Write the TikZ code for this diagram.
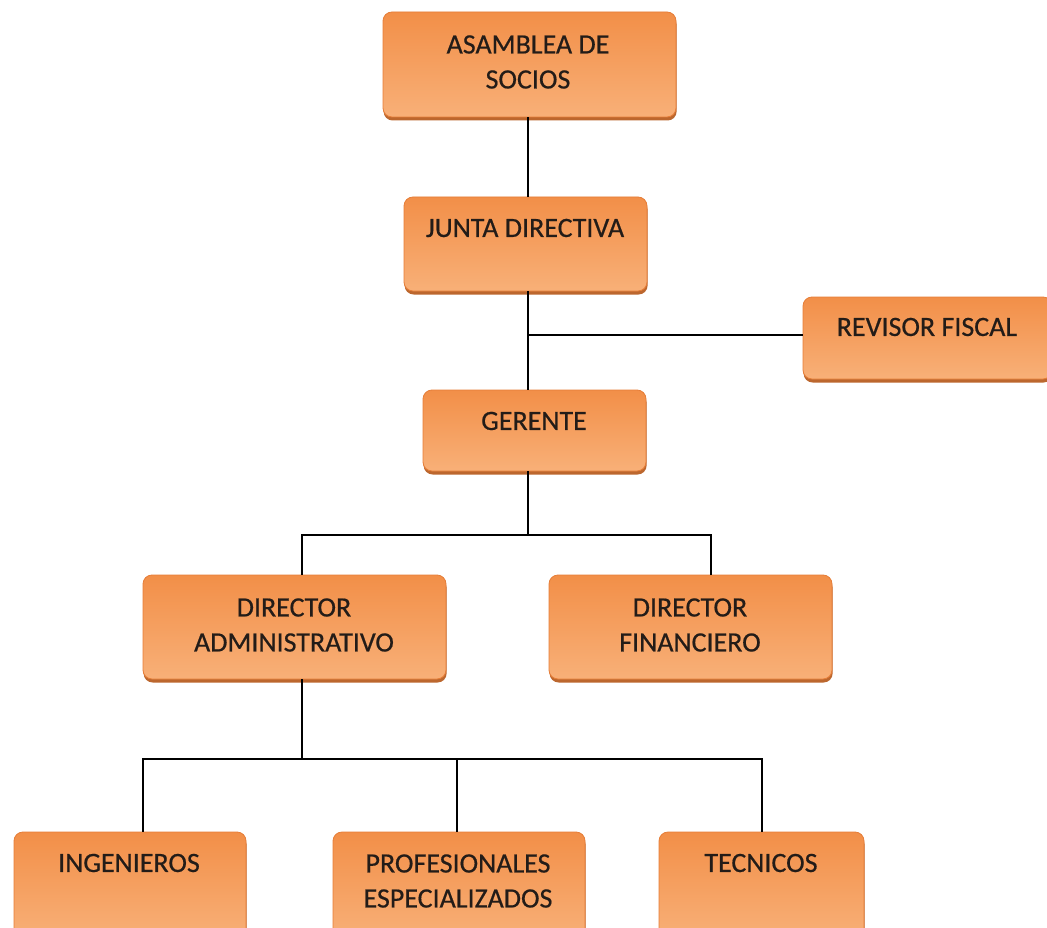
\documentclass[tikz,border=0pt]{standalone}
\usepackage{fontspec}
\setmainfont{Carlito}
\newfontfamily\boxfont[FakeBold=0.5]{Carlito}
\usetikzlibrary{shadows}
\definecolor{otop}{RGB}{242,143,72}
\definecolor{omid}{RGB}{246,162,100}
\definecolor{obot}{RGB}{248,176,120}
\definecolor{oedge}{RGB}{230,125,55}
\definecolor{oshadow}{RGB}{185,95,35}
\definecolor{txtc}{RGB}{35,28,24}
\tikzset{
  box/.style={rounded corners=9pt, draw=oedge, line width=0.8pt,
    top color=otop, middle color=omid, bottom color=obot,
    drop shadow={shadow xshift=0.6pt, shadow yshift=-3.5pt, fill=oshadow, opacity=0.95},
    inner sep=0pt},
  txt/.style={text=txtc, align=center, font=\boxfont\fontsize{28}{35}\selectfont},
  conn/.style={draw=black, line width=1.6pt}
}
\begin{document}
\begin{tikzpicture}[x=1pt,y=-1pt]
\fill[white] (0,0) rectangle (1047,928);
\useasboundingbox (0,0) rectangle (1047,928);
% boxes
\node[box, minimum width=293pt, minimum height=105pt] (A) at (529.5,64.5) {};
\node[box, minimum width=243pt, minimum height=94pt] (J) at (525.5,244) {};
\node[box, minimum width=249pt, minimum height=82pt] (R) at (927.5,338) {};
\node[box, minimum width=223pt, minimum height=81pt] (G) at (534.5,430.5) {};
\node[box, minimum width=303pt, minimum height=104pt] (DA) at (294.5,627) {};
\node[box, minimum width=283pt, minimum height=104pt] (DF) at (690.5,627) {};
\node[box, minimum width=232pt, minimum height=106pt] (I) at (130,885) {};
\node[box, minimum width=252pt, minimum height=106pt] (P) at (459,885) {};
\node[box, minimum width=205pt, minimum height=106pt] (T) at (761.5,885) {};
% texts
\node[txt] (tA) at (528,62) {ASAMBLEA DE\\SOCIOS};
\node[txt] (tJ) at (525,228) {JUNTA DIRECTIVA};
\node[txt] (tR) at (927,327) {REVISOR FISCAL};
\node[txt] (tG) at (534,421) {GERENTE};
\node[txt] (tDA) at (294,625) {DIRECTOR\\ADMINISTRATIVO};
\node[txt] (tDF) at (690,625) {DIRECTOR\\FINANCIERO};
\node[txt] (tI) at (129,863) {INGENIEROS};
\node[txt] (tP) at (458,881) {PROFESIONALES\\ESPECIALIZADOS};
\node[txt] (tT) at (761,863) {TECNICOS};
% connector coordinates
\coordinate (s1) at (528,335);
\coordinate (ca) at (302,535);
\coordinate (cm) at (528,535);
\coordinate (cf) at (711,535);
\coordinate (b0) at (302,759);
\coordinate (bi) at (143,759);
\coordinate (bp) at (457,759);
\coordinate (bt) at (762,759);
% connectors
\draw[conn] (A.south -| s1) -- (J.north -| s1);
\draw[conn] (J.south -| s1) -- (G.north -| s1);
\draw[conn] (s1) -- (R.west |- s1);
\draw[conn] (G.south -| cm) -- (cm);
\draw[conn] (ca |- DA.north) -- (ca) -- (cf) -- (cf |- DF.north);
\draw[conn] (DA.south -| b0) -- (b0);
\draw[conn] (bi |- I.north) -- (bi) -- (bt) -- (bt |- T.north);
\draw[conn] (bp) -- (bp |- P.north);
\end{tikzpicture}
\end{document}
